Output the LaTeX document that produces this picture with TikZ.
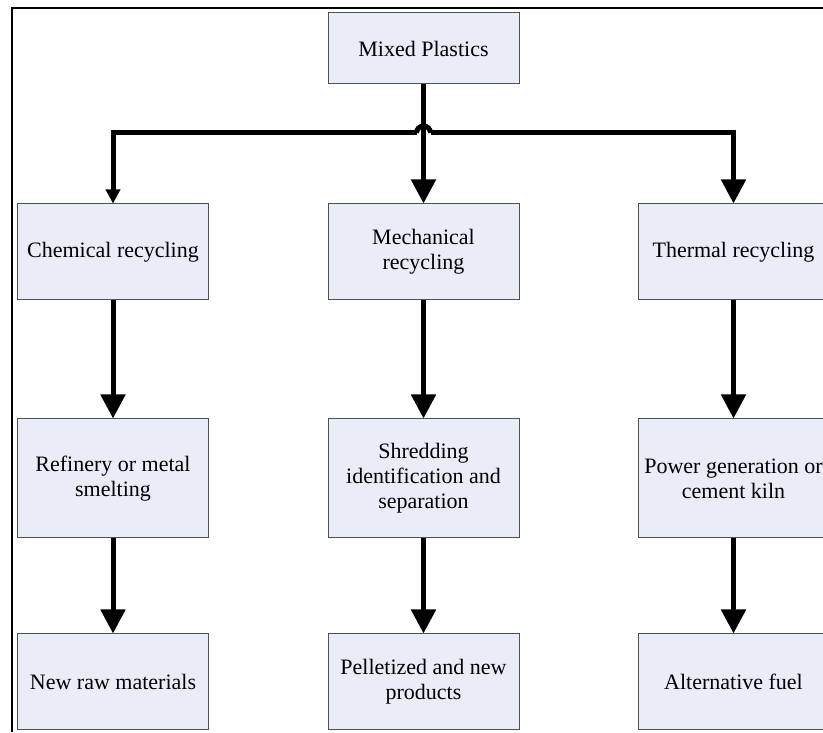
\documentclass[tikz,border=0pt]{standalone}
\usepackage{fontspec}
\setmainfont{Liberation Serif}
\usetikzlibrary{arrows.meta}
\definecolor{boxfill}{HTML}{E9EDF7}
\definecolor{boxline}{HTML}{505050}
\begin{document}
\begin{tikzpicture}[x=1pt,y=1pt,
  box/.style={draw=boxline, line width=1pt, fill=boxfill, minimum width=191pt,
    inner sep=0pt, align=center, font=\fontsize{22}{25}\selectfont},
  row0/.style={box, minimum height=71pt},
  row1/.style={box, minimum height=96pt},
  row2/.style={box, minimum height=119pt},
  row3/.style={box, minimum height=95pt},
  conn/.style={line width=5pt},
  flow/.style={conn, -{Triangle[width=24pt,length=24pt]}},
  flowsmall/.style={conn, -{Triangle[width=14pt,length=14pt]}},
]
\useasboundingbox (0,0) rectangle (823,732);
\clip (0,0) rectangle (823,732);
\fill[white] (0,0) rectangle (823,732);
\draw[line width=2pt] (12,0) -- (12,724) -- (823,724);

\node[row0] (mixed) at (423.5,683.5) {Mixed Plastics};

\node[row1] (chem)  at (113,480)   {Chemical recycling};
\node[row1] (mech)  at (423.5,480) {Mechanical\\recycling};
\node[row1] (therm) at (733.5,480) {Thermal recycling};

\node[row2] (refin) at (113,253.5)   {Refinery or metal\\smelting};
\node[row2] (shred) at (423.5,253.5) {Shredding\\identification and\\separation};
\node[row2] (power) at (733.5,253.5) {Power generation or\\cement kiln};

\node[row3] (raw)    at (113,50.5)   {New raw materials};
\node[row3] (pellet) at (423.5,50.5) {Pelletized and new\\products};
\node[row3] (fuel)   at (733.5,50.5) {Alternative fuel};

\coordinate (hopL) at (416.5,599);
\coordinate (hopR) at (430.5,599);

\draw[flow] (mixed.south) -- (mech.north);
\draw[conn] (hopL) arc (180:0:7);
\draw[flowsmall] (hopL) -| (chem.north);
\draw[flow] (hopR) -| (therm.north);

\draw[flow] (chem.south) -- (refin.north);
\draw[flow] (mech.south) -- (shred.north);
\draw[flow] (therm.south) -- (power.north);
\draw[flow] (refin.south) -- (raw.north);
\draw[flow] (shred.south) -- (pellet.north);
\draw[flow] (power.south) -- (fuel.north);
\end{tikzpicture}
\end{document}
